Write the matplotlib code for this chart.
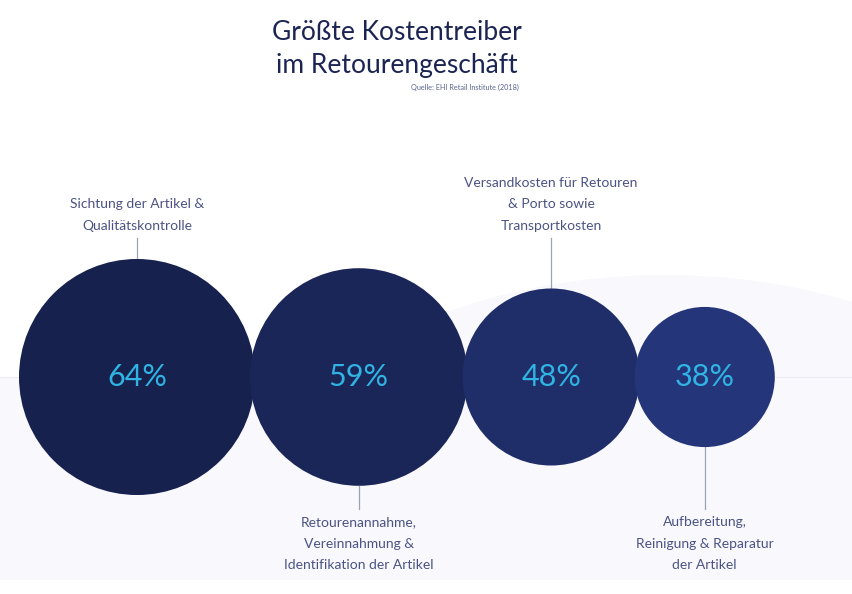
import matplotlib
matplotlib.use("Agg")
from matplotlib import pyplot as plt
from matplotlib.patches import Circle, Ellipse, Rectangle

plt.rcParams['font.family'] = ['Lato', 'DejaVu Sans']

# data
labels = [
    "Sichtung der Artikel &\nQualitätskontrolle",
    "Retourenannahme,\nVereinnahmung &\nIdentifikation der Artikel",
    "Versandkosten für Retouren\n& Porto sowie\nTransportkosten",
    "Aufbereitung,\nReinigung & Reparatur\nder Artikel",
]
values = [64, 59, 48, 38]
colours = ["#17214e", "#1b2658", "#1f2d69", "#25357a"]

title = "Größte Kostentreiber\nim Retourengeschäft"
source = "Quelle: EHI Retail Institute (2018)"

W, H = 852, 594
fig = plt.figure(figsize=(W / 100, H / 100), dpi=100)
ax = fig.add_axes([0, 0, 1, 1])
ax.set_xlim(0, W)
ax.set_ylim(H, 0)
ax.set_axis_off()

# light background shapes
bg = "#f8f8fd"
band = Rectangle((0, 377), W, 203, facecolor=bg, edgecolor="none", zorder=0)
ax.add_patch(band)
ell = Ellipse((665, 585), 920, 620, facecolor=bg, edgecolor="none", zorder=0)
ax.add_patch(ell)
clip = Rectangle((0, 0), W, 580, transform=ax.transData)
ell.set_clip_path(clip)
ax.plot([0, W], [377, 377], color="#ebebf3", lw=0.8, zorder=0.5)

# bubbles, radius linear in value
scale = 1.844
cy = 377
x = 19
prev_r = None
for i, (lab, v, c) in enumerate(zip(labels, values, colours)):
    r = v * scale
    if prev_r is None:
        cx = x + r
    else:
        cx = cx + prev_r + r - 5
    prev_r = r
    ax.add_patch(Circle((cx, cy), r, facecolor=c, edgecolor="none", zorder=2))
    ax.text(cx, cy, f"{v}%", ha="center", va="center", fontsize=22,
            color="#2fb4e4", zorder=3)
    if i % 2 == 0:
        ax.plot([cx, cx], [cy - r, 238], color="#9ea2b6", lw=0.9, zorder=1)
        ax.text(cx, 232, lab, ha="center", va="bottom", fontsize=10,
                color="#4b5384", linespacing=1.95)
    else:
        ax.plot([cx, cx], [cy + r, 509], color="#9ea2b6", lw=0.9, zorder=1)
        ax.text(cx, 516, lab, ha="center", va="top", fontsize=10,
                color="#4b5384", linespacing=1.95)

ax.text(397, 49, title, ha="center", va="center", fontsize=19,
        color="#1b2452", linespacing=1.4)
ax.text(519, 87, source, ha="right", va="center", fontsize=5.2, color="#5a6290")

fig.savefig("out.png", dpi=100)
